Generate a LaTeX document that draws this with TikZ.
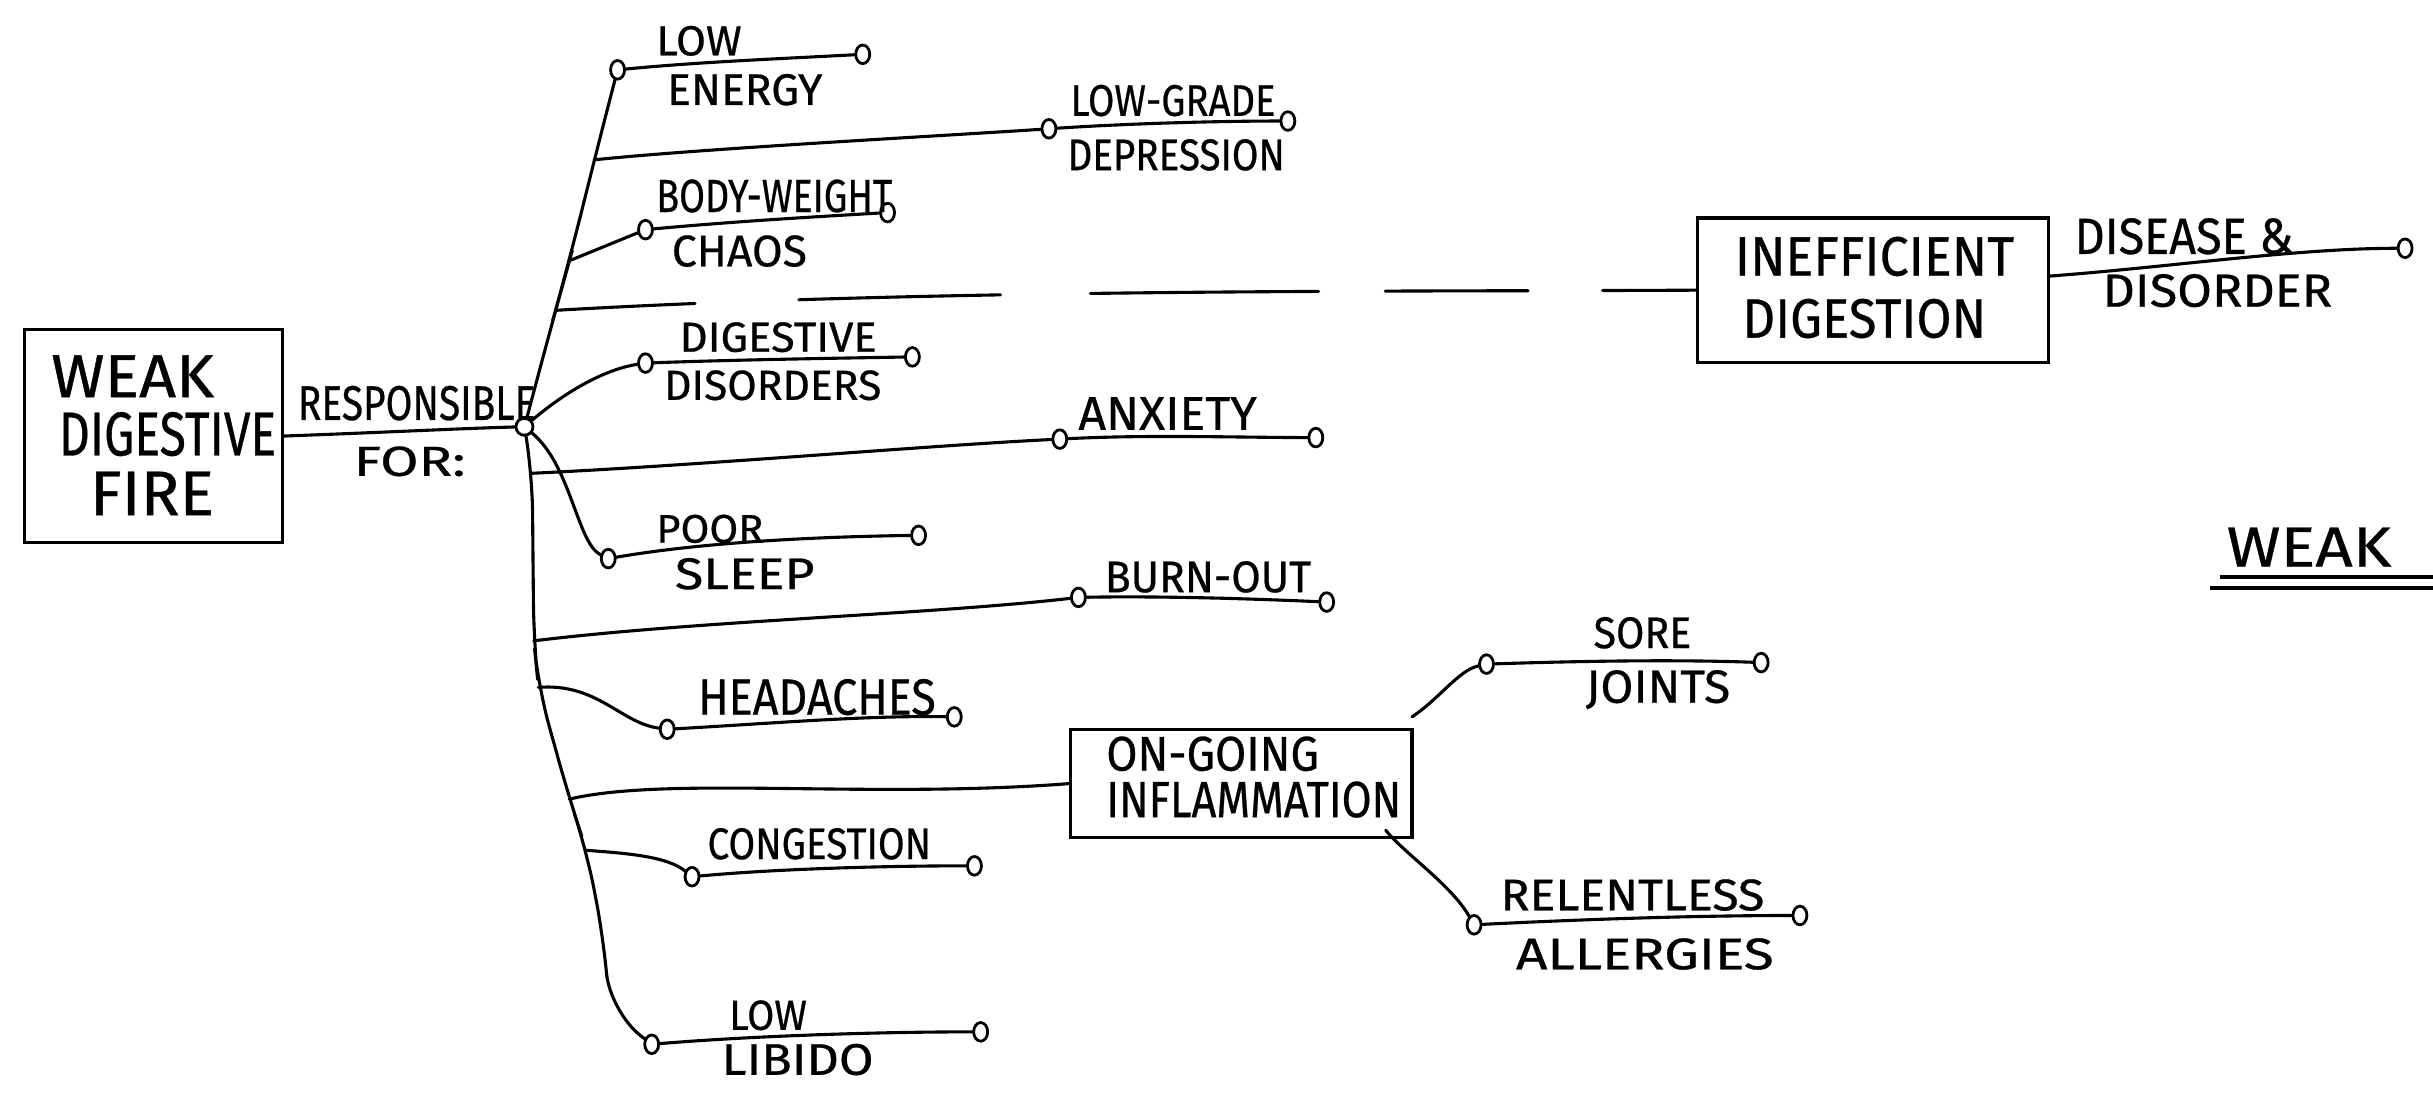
\documentclass[tikz,border=0pt]{standalone}
\usepackage{fontspec}
\setmainfont{Fira Sans}[FakeBold=0.6]
\usepackage{graphicx}
\usetikzlibrary{shapes.geometric}
\tikzset{
  hand/.style={line width=2pt, line cap=round, line join=round},
  dot/.style={ellipse, draw, line width=1.8pt, inner sep=0pt, minimum width=9pt, minimum height=12pt},
  hubdot/.style={circle, draw, line width=1.8pt, inner sep=0pt, minimum size=11pt},
  lbl/.style={inner sep=0pt, outer sep=0pt, anchor=south west},
  box/.style={draw, line width=2pt, rectangle, inner sep=0pt},
}
\newcommand\hw[3]{\resizebox{#1pt}{#2pt}{#3}}
\begin{document}
\begin{tikzpicture}[x=1pt,y=-1pt]
\useasboundingbox (0,0) rectangle (1568,709);

% boxes
\node[box, minimum width=166pt, minimum height=137pt] (box1) at (99,281) {};
\node[box, minimum width=226pt, minimum height=93pt] (box2) at (1207,187) {};
\node[box, minimum width=220pt, minimum height=70pt] (box3) at (800,505) {};

% box texts
\node[lbl] (weak) at (33,256) {\hw{105}{27}{WEAK}};
\node[lbl] (digestiveB) at (38,294) {\hw{140}{28}{DIGESTIVE}};
\node[lbl] (fire) at (58,332) {\hw{80}{28}{FIRE}};
\node[lbl] (inefficient) at (1118,178) {\hw{180}{25}{INEFFICIENT}};
\node[lbl] (digestion) at (1123,218) {\hw{157}{25}{DIGESTION}};
\node[lbl] (ongoing) at (713,497) {\hw{137}{22}{ON-GOING}};
\node[lbl] (inflammation) at (713,527) {\hw{190}{23}{INFLAMMATION}};

% hub and circles
\node[hubdot] (hub) at (338,275) {};
\node[dot] (cLE1) at (398,45) {};
\node[dot] (cLE2) at (556,35) {};
\node[dot] (cLG1) at (676,83) {};
\node[dot] (cLG2) at (830,78) {};
\node[dot] (cBW1) at (416,148) {};
\node[dot] (cBW2) at (572,137) {};
\node[dot] (cDD1) at (416,234) {};
\node[dot] (cDD2) at (588,230) {};
\node[dot] (cAX1) at (683,283) {};
\node[dot] (cAX2) at (848,282) {};
\node[dot] (cPS1) at (392,360) {};
\node[dot] (cPS2) at (592,345) {};
\node[dot] (cBO1) at (695,385) {};
\node[dot] (cBO2) at (855,388) {};
\node[dot] (cHA1) at (430,470) {};
\node[dot] (cHA2) at (615,462) {};
\node[dot] (cCO1) at (446,565) {};
\node[dot] (cCO2) at (628,558) {};
\node[dot] (cLL1) at (420,673) {};
\node[dot] (cLL2) at (632,665) {};
\node[dot] (cSJ1) at (958,428) {};
\node[dot] (cSJ2) at (1135,427) {};
\node[dot] (cRA1) at (950,596) {};
\node[dot] (cRA2) at (1160,590) {};
\node[dot] (cDI) at (1550,160) {};

% trunk coordinates
\coordinate (tDash) at (358,200);
\coordinate (tBW) at (367,168);
\coordinate (tLG) at (383,103);
\coordinate (tAX) at (343,305);
\coordinate (tBO) at (344,413);
\coordinate (tHA) at (347,443);
\coordinate (tIN) at (367,515);
\coordinate (tCO) at (378,548);
\coordinate (tL1) at (389,605);
\coordinate (tL2) at (393,652);
\coordinate (sjStart) at (910,462);
\coordinate (raStart) at (893,535);
\coordinate (b2out) at (1320,178);

% main connector
\draw[hand] (box1.east) .. controls (240,279) and (300,276) .. (hub);

% trunk
\draw[hand, rounded corners=40pt] (hub) -- (tDash) -- (tBW) -- (tLG) -- (cLE1);
\draw[hand, rounded corners=25pt] (hub) -- (tAX) -- (tBO) -- (tHA) -- (tIN) -- (tCO) -- (tL1) -- (tL2) -- (cLL1);

% branches
\draw[hand] (tLG) .. controls (450,96) and (600,88) .. (cLG1);
\draw[hand] (tBW) -- (cBW1);
\draw[hand] (hub) .. controls (365,252) and (390,238) .. (cDD1);
\draw[hand] (tAX) .. controls (450,300) and (600,287) .. (cAX1);
\draw[hand] (hub) .. controls (368,300) and (372,350) .. (cPS1);
\draw[hand] (tBO) .. controls (450,400) and (600,396) .. (cBO1);
\draw[hand] (tHA) .. controls (385,440) and (400,466) .. (cHA1);
\draw[hand] (tIN) .. controls (430,500) and (560,515) .. (box3.west);
\draw[hand] (tCO) .. controls (405,550) and (430,552) .. (cCO1);
\draw[hand, dash pattern=on 90pt off 67pt on 130pt off 58pt on 147pt off 43pt on 92pt off 48pt on 80pt]
  (tDash) .. controls (600,186) and (900,188) .. (box2.west);

% circle-to-circle lines
\draw[hand] (cLE1) .. controls (450,40) and (500,38) .. (cLE2);
\draw[hand] (cLG1) .. controls (720,80) and (780,78) .. (cLG2);
\draw[hand] (cBW1) .. controls (470,143) and (520,140) .. (cBW2);
\draw[hand] (cDD1) .. controls (470,232) and (530,231) .. (cDD2);
\draw[hand] (cAX1) .. controls (740,280) and (800,282) .. (cAX2);
\draw[hand] (cPS1) .. controls (450,350) and (520,346) .. (cPS2);
\draw[hand] (cBO1) .. controls (750,384) and (810,386) .. (cBO2);
\draw[hand] (cHA1) .. controls (500,466) and (560,461) .. (cHA2);
\draw[hand] (cCO1) .. controls (500,560) and (570,558) .. (cCO2);
\draw[hand] (cLL1) .. controls (480,668) and (560,665) .. (cLL2);
\draw[hand] (cSJ1) .. controls (1020,426) and (1080,425) .. (cSJ2);
\draw[hand] (cRA1) .. controls (1030,592) and (1100,590) .. (cRA2);

% inflammation branches
\draw[hand] (sjStart) .. controls (928,450) and (940,432) .. (cSJ1);
\draw[hand] (raStart) .. controls (905,550) and (935,570) .. (cRA1);

% inefficient digestion to disease
\draw[hand] (b2out) .. controls (1400,172) and (1480,160) .. (cDI);

% labels
\node[lbl] (responsible) at (192,271) {\hw{153}{22}{RESPONSIBLE}};
\node[lbl] (forl) at (228,307) {\hw{72}{19}{FOR:}};
\node[lbl] (lowA) at (423,36) {\hw{55}{19}{LOW}};
\node[lbl] (energy) at (430,68) {\hw{100}{20}{ENERGY}};
\node[lbl] (lowgrade) at (690,75) {\hw{132}{20}{LOW-GRADE}};
\node[lbl] (depression) at (688,110) {\hw{140}{20}{DEPRESSION}};
\node[lbl] (bodyweight) at (423,137) {\hw{152}{21}{BODY-WEIGHT}};
\node[lbl] (chaos) at (433,172) {\hw{87}{20}{CHAOS}};
\node[lbl] (digestiveA) at (438,227) {\hw{127}{19}{DIGESTIVE}};
\node[lbl] (disorders) at (428,258) {\hw{140}{19}{DISORDERS}};
\node[lbl] (anxiety) at (695,277) {\hw{115}{21}{ANXIETY}};
\node[lbl] (poor) at (423,350) {\hw{69}{18}{POOR}};
\node[lbl] (sleep) at (435,380) {\hw{90}{20}{SLEEP}};
\node[lbl] (burnout) at (712,382) {\hw{133}{20}{BURN-OUT}};
\node[lbl] (headaches) at (450,461) {\hw{153}{23}{HEADACHES}};
\node[lbl] (congestion) at (456,554) {\hw{144}{20}{CONGESTION}};
\node[lbl] (lowB) at (470,664) {\hw{50}{19}{LOW}};
\node[lbl] (libido) at (465,693) {\hw{98}{20}{LIBIDO}};
\node[lbl] (sore) at (1027,418) {\hw{63}{20}{SORE}};
\node[lbl] (joints) at (1022,457) {\hw{93}{21}{JOINTS}};
\node[lbl] (relentless) at (967,587) {\hw{170}{20}{RELENTLESS}};
\node[lbl] (allergies) at (977,625) {\hw{166}{20}{ALLERGIES}};
\node[lbl] (disease) at (1337,164) {\hw{141}{23}{DISEASE \&}};
\node[lbl] (disorder) at (1355,198) {\hw{148}{21}{DISORDER}};
\node[lbl] (weakR) at (1435,365) {\hw{106}{25}{WEAK}};
\draw[line width=2.6pt] (weakR.south west) ++(-4,7) -- (1568,372);
\draw[line width=2.6pt] (weakR.south west) ++(-11,14) -- (1568,379);
\end{tikzpicture}
\end{document}
